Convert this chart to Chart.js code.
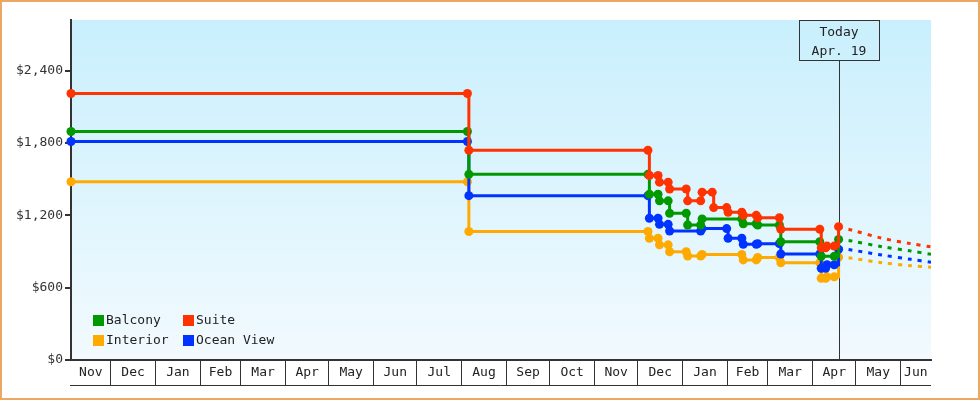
<!DOCTYPE html>
<html>
<head>
<meta charset="utf-8">
<title>Cabin prices</title>
<script src="https://cdn.jsdelivr.net/npm/chart.js@4.4.1/dist/chart.umd.min.js"></script>
<style>
  body { margin: 0; background: #fff; }
  canvas { display: block; }
</style>
</head>
<body>
<canvas id="chart" width="980" height="400"></canvas>
<script>
// x values are days counted from Nov 1, 2017
const monthNames = ['Nov', 'Dec', 'Jan', 'Feb', 'Mar', 'Apr', 'May', 'Jun', 'Jul', 'Aug',
  'Sep', 'Oct', 'Nov', 'Dec', 'Jan', 'Feb', 'Mar', 'Apr', 'May', 'Jun'];
const monthStarts = [0, 30, 61, 92, 120, 151, 181, 212, 242, 273,
  304, 334, 365, 395, 426, 457, 485, 516, 546, 577, 607];
const yTicks = [0, 600, 1200, 1800, 2400];
const todayDay = 534;
const todayLabel = ['Today', 'Apr. 19'];

const suite = [[2.5, 2210], [277, 2210], [278, 1740], [402, 1740], [403, 1530], [409, 1530],
  [410, 1475], [416, 1475], [417, 1418], [428.5, 1418], [429.5, 1320], [438.5, 1320],
  [439.5, 1392], [446.5, 1392], [447.5, 1264], [456.5, 1264], [457.5, 1225], [467, 1225],
  [468, 1200], [477, 1200], [478, 1180], [493, 1180], [494, 1084], [521, 1084],
  [522, 930], [525, 930], [526, 945], [531, 945], [534, 1106]];
const balcony = [[2.5, 1895], [277, 1895], [278, 1540], [402, 1540], [403, 1375], [409, 1375],
  [410, 1320], [416, 1320], [417, 1217], [428.5, 1217], [429.5, 1120], [438.5, 1120],
  [439.5, 1170], [467, 1170], [468, 1130], [477, 1130], [478, 1120], [493, 1120],
  [494, 981], [521, 981], [522, 860], [531, 860], [534, 1000]];
const oceanView = [[2.5, 1812], [277, 1812], [278, 1363], [402, 1363], [403, 1176], [409, 1176],
  [410, 1125], [416, 1125], [417, 1070], [438.5, 1070], [439.5, 1090], [456.5, 1090],
  [457.5, 1010], [467, 1010], [468, 960], [477, 960], [478, 965], [493, 965],
  [494, 879], [521, 879], [522, 761], [525, 761], [526, 790], [531, 790], [534, 918]];
const interior = [[2.5, 1478], [277, 1478], [278, 1066], [402, 1066], [403, 1010], [409, 1010],
  [410, 955], [416, 955], [417, 898], [428.5, 898], [429.5, 863], [438.5, 863],
  [439.5, 875], [467, 875], [468, 830], [477, 830], [478, 850], [493, 850],
  [494, 807], [521, 807], [522, 678], [525, 678], [526, 690], [531, 690], [534, 852]];

// projected prices after today
const suiteForecast = [[534, 1103], [543, 1078], [564, 1010], [584, 965], [598, 938]];
const balconyForecast = [[534, 1004], [543, 987], [564, 940], [584, 904], [598, 877]];
const oceanViewForecast = [[534, 929], [543, 912], [564, 871], [584, 835], [598, 810]];
const interiorForecast = [[534, 859], [543, 844], [564, 807], [584, 782], [598, 769]];

const colors = { suite: '#ff3300', balcony: '#009900', oceanView: '#0033ff', interior: '#ffaa00' };
const FONT = '13px "DejaVu Sans Mono", monospace';

function pts(arr) {
  return arr.map(p => ({ x: p[0], y: p[1] }));
}

function priceSet(label, data, color) {
  return {
    label, data: pts(data), borderColor: color, backgroundColor: color,
    borderWidth: 3, stepped: true, pointRadius: 4.5, pointHoverRadius: 4.5,
    pointBorderWidth: 0, clip: false
  };
}

function forecastSet(data, color) {
  return {
    label: '', data: pts(data), borderColor: color, borderWidth: 3,
    borderDash: [4, 6], pointRadius: 0, pointHoverRadius: 0, tension: 0.3
  };
}

const chartDecor = {
  id: 'chartDecor',
  beforeDraw(chart) {
    const { ctx, chartArea: a } = chart;
    ctx.save();
    ctx.fillStyle = '#fff';
    ctx.fillRect(0, 0, chart.width, chart.height);
    const g = ctx.createLinearGradient(0, a.top, 0, a.bottom);
    g.addColorStop(0, '#c9effd');
    g.addColorStop(1, '#f2fafe');
    ctx.fillStyle = g;
    ctx.fillRect(a.left, a.top, a.right - a.left, a.bottom - a.top);
    ctx.strokeStyle = '#e9a864';
    ctx.lineWidth = 2;
    ctx.strokeRect(1, 1, chart.width - 2, chart.height - 2);
    ctx.restore();
  },
  beforeDatasetsDraw(chart) {
    const { ctx, chartArea: a } = chart;
    const x = Math.round(chart.scales.x.getPixelForValue(todayDay)) + 0.5;
    ctx.save();
    ctx.strokeStyle = '#333';
    ctx.lineWidth = 1;
    ctx.beginPath();
    ctx.moveTo(x, a.top + 40);
    ctx.lineTo(x, a.bottom);
    ctx.stroke();
    ctx.restore();
  },
  afterDraw(chart) {
    const { ctx, chartArea: a } = chart;
    const xs = chart.scales.x;
    ctx.save();
    ctx.font = FONT;
    ctx.fillStyle = '#222';
    ctx.textAlign = 'center';
    ctx.textBaseline = 'middle';

    // month boxes under the axis
    for (let i = 0; i < monthNames.length; i++) {
      const from = Math.max(monthStarts[i], xs.min);
      const to = Math.min(monthStarts[i + 1], xs.max);
      const cx = (xs.getPixelForValue(from) + xs.getPixelForValue(to)) / 2;
      ctx.fillText(monthNames[i], cx, a.bottom + 13);
    }
    ctx.strokeStyle = '#333';
    ctx.lineWidth = 1;
    ctx.beginPath();
    ctx.moveTo(a.left - 1, a.bottom + 25.5);
    ctx.lineTo(a.right, a.bottom + 25.5);
    ctx.stroke();

    // today marker box
    const tx = Math.round(xs.getPixelForValue(todayDay));
    ctx.strokeRect(tx - 40 + 0.5, a.top + 0.5, 80, 40);
    ctx.fillText(todayLabel[0], tx, a.top + 13);
    ctx.fillText(todayLabel[1], tx, a.top + 32);

    // legend, two columns in the lower left corner
    const items = [
      ['Balcony', colors.balcony, 0, 0], ['Suite', colors.suite, 1, 0],
      ['Interior', colors.interior, 0, 1], ['Ocean View', colors.oceanView, 1, 1]
    ];
    ctx.textAlign = 'left';
    items.forEach(([name, color, col, row]) => {
      const lx = a.left + 22 + col * 90;
      const ly = a.bottom - 45 + row * 20;
      ctx.fillStyle = color;
      ctx.fillRect(lx, ly, 11, 11);
      ctx.fillStyle = '#222';
      ctx.fillText(name, lx + 13, ly + 6);
    });
    ctx.restore();
  }
};

new Chart(document.getElementById('chart'), {
  type: 'line',
  data: {
    datasets: [
      priceSet('Suite', suite, colors.suite),
      priceSet('Balcony', balcony, colors.balcony),
      priceSet('Ocean View', oceanView, colors.oceanView),
      priceSet('Interior', interior, colors.interior),
      forecastSet(suiteForecast, colors.suite),
      forecastSet(balconyForecast, colors.balcony),
      forecastSet(oceanViewForecast, colors.oceanView),
      forecastSet(interiorForecast, colors.interior)
    ]
  },
  options: {
    responsive: false,
    animation: false,
    devicePixelRatio: 1,
    layout: { padding: { left: 0, right: 49, top: 20, bottom: 0 } },
    plugins: { legend: { display: false }, tooltip: { enabled: false } },
    scales: {
      x: {
        type: 'linear', min: 2.5, max: 598,
        afterBuildTicks: s => { s.ticks = monthStarts.filter(v => v > s.min && v < s.max).map(v => ({ value: v })); },
        afterFit: s => { s.height = 40; },
        ticks: { display: false },
        grid: { drawOnChartArea: false, drawTicks: true, tickLength: 25, color: '#333', lineWidth: 1 },
        border: { display: true, color: '#333', width: 2 }
      },
      y: {
        min: 0, max: 2820,
        afterBuildTicks: s => { s.ticks = yTicks.map(v => ({ value: v })); },
        afterFit: s => { s.width = 71; },
        ticks: {
          padding: 2, color: '#333',
          font: { family: '"DejaVu Sans Mono", monospace', size: 13 },
          callback: v => '$' + v.toLocaleString('en-US')
        },
        grid: { drawOnChartArea: false, drawTicks: true, tickLength: 6, color: '#333', lineWidth: 2 },
        border: { display: true, color: '#333', width: 2 }
      }
    }
  },
  plugins: [chartDecor]
});
</script>
</body>
</html>
